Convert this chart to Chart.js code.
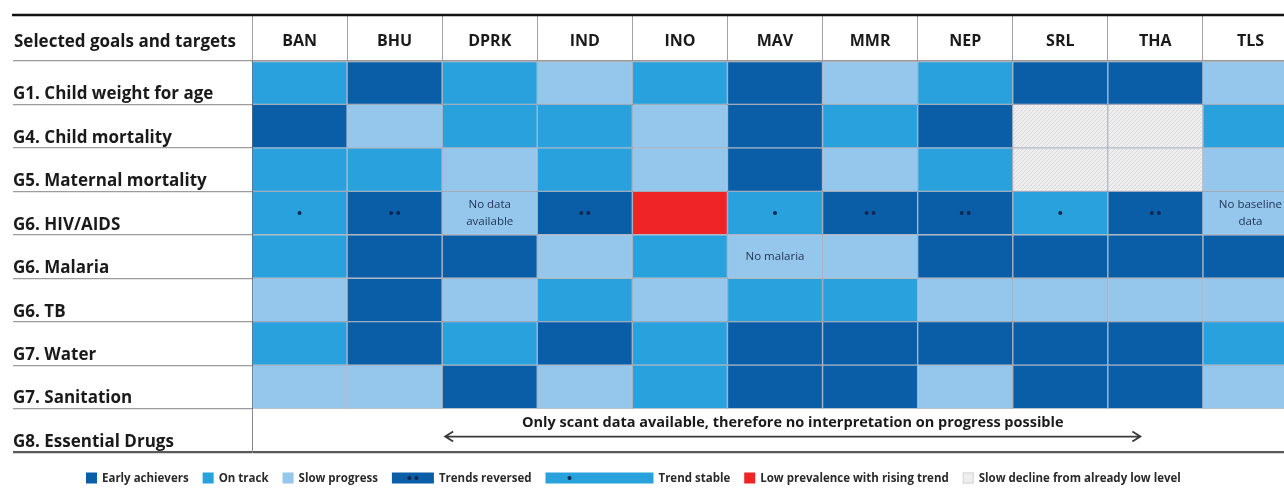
<!DOCTYPE html>
<html>
<head>
<meta charset="utf-8">
<title>MDG progress</title>
<script src="https://cdn.jsdelivr.net/npm/chart.js@4.4.1/dist/chart.umd.min.js"></script>
<style>
  html, body { margin: 0; padding: 0; background: #fff; overflow: hidden; }
  #wrap { width: 1284px; height: 489px; overflow: hidden; }
</style>
</head>
<body>
<div id="wrap"><canvas id="mdg" width="1298" height="489"></canvas></div>
<script>
const countries = ["BAN", "BHU", "DPRK", "IND", "INO", "MAV", "MMR", "NEP", "SRL", "THA", "TLS"];
const goals = ["G1. Child weight for age", "G4. Child mortality", "G5. Maternal mortality", "G6. HIV/AIDS",
  "G6. Malaria", "G6. TB", "G7. Water", "G7. Sanitation", "G8. Essential Drugs"];

// status of each country for each goal
// E early achievers, O on track, S slow progress, R low prevalence rising, G slow decline from low level
// TR trends reversed, TS trend stable, ND no data, NB no baseline, NM no malaria
const weightForAge      = ["O", "E", "O", "S", "O", "E", "S", "O", "E", "E", "S"];
const childMortality    = ["E", "S", "O", "O", "S", "E", "O", "E", "G", "G", "O"];
const maternalMortality = ["O", "O", "S", "O", "S", "E", "S", "O", "G", "G", "S"];
const hivAids           = ["TS", "TR", "ND", "TR", "R", "TS", "TR", "TR", "TS", "TR", "NB"];
const malaria           = ["O", "E", "E", "S", "O", "NM", "S", "E", "E", "E", "E"];
const tb                = ["S", "E", "S", "O", "S", "O", "O", "S", "S", "S", "S"];
const water             = ["O", "E", "O", "E", "O", "E", "E", "E", "E", "E", "O"];
const sanitation        = ["S", "S", "E", "S", "O", "E", "E", "S", "E", "E", "S"];
const essentialDrugs    = [null, null, null, null, null, null, null, null, null, null, null];
const drugsNote = "Only scant data available, therefore no interpretation on progress possible";

const legendCodes  = ["E", "O", "S", "TR", "TS", "R", "G"];
const legendLabels = ["Early achievers", "On track", "Slow progress", "Trends reversed", "Trend stable",
  "Low prevalence with rising trend", "Slow decline from already low level"];

function makeHatch() {
  const c = document.createElement("canvas");
  c.width = 4; c.height = 4;
  const g = c.getContext("2d");
  g.fillStyle = "#eeeeee";
  g.fillRect(0, 0, 4, 4);
  g.strokeStyle = "rgba(120,120,120,0.16)";
  g.lineWidth = 1;
  g.beginPath(); g.moveTo(0, 4); g.lineTo(4, 0); g.stroke();
  return g.createPattern(c, "repeat");
}

const dark = "#0A5EA8", mid = "#28A1DD", light = "#95C6EB";
const fill = { E: dark, O: mid, S: light, R: "#EE2426", G: makeHatch(),
  TR: dark, TS: mid, ND: light, NB: light, NM: light };
const dotCount = { TR: 2, TS: 1 };
const notes = { ND: ["No data", "available"], NB: ["No baseline", "data"], NM: ["No malaria"] };

const rows = [weightForAge, childMortality, maternalMortality, hivAids, malaria, tb, water, sanitation, essentialDrugs];
const FONT = "'Open Sans', Lato, sans-serif";

const datasets = rows.map((codes, r) => ({
  label: goals[r],
  data: codes.map(c => c ? [r, r + 1] : null),
  backgroundColor: codes.map(c => c ? fill[c] : "transparent"),
  borderColor: "rgba(10,40,80,0.28)",
  borderWidth: 1,
  borderSkipped: false,
  grouped: false,
  barPercentage: 1,
  categoryPercentage: 1,
  codes: codes
}));

function drawDots(ctx, cx, cy, n, color) {
  ctx.fillStyle = color;
  for (let k = 0; k < n; k++) {
    const dx = n === 1 ? 0 : (k === 0 ? -3.5 : 3.5);
    ctx.beginPath();
    ctx.arc(cx + dx, cy, 2, 0, Math.PI * 2);
    ctx.fill();
  }
}

const decor = {
  id: "decor",
  afterDatasetsDraw(chart) {
    const ctx = chart.ctx;
    ctx.save();
    // marks and notes inside cells
    chart.data.datasets.forEach((ds, r) => {
      const meta = chart.getDatasetMeta(r);
      ds.codes.forEach((c, i) => {
        const el = meta.data[i];
        if (!c || !el) return;
        const cx = el.x, cy = (el.y + el.base) / 2;
        if (dotCount[c]) drawDots(ctx, cx, cy, dotCount[c], "#13284f");
        if (notes[c]) {
          ctx.fillStyle = "#22365a";
          ctx.font = "11.5px " + FONT;
          ctx.textAlign = "center";
          ctx.textBaseline = "middle";
          const lines = notes[c];
          lines.forEach((t, k) => ctx.fillText(t, cx, cy + (k - (lines.length - 1) / 2) * 17));
        }
      });
    });

    // G8 annotation with double arrow
    const xs = chart.scales.x, ys = chart.scales.y;
    const colW = xs.width / countries.length;
    const rowTop = ys.getPixelForValue(goals.length - 1);
    const x0 = xs.getPixelForValue(2) - colW / 2 + 3;
    const x1 = xs.getPixelForValue(9) - 15;
    ctx.fillStyle = "#1a1a1a";
    ctx.font = "bold 14.5px " + FONT;
    ctx.textAlign = "center";
    ctx.textBaseline = "middle";
    ctx.fillText(drugsNote, (x0 + x1) / 2, rowTop + 14);
    const ay = rowTop + 28;
    ctx.strokeStyle = "#3a3a3a";
    ctx.lineWidth = 1.8;
    ctx.beginPath();
    ctx.moveTo(x0, ay); ctx.lineTo(x1, ay);
    ctx.moveTo(x0 + 8, ay - 5); ctx.lineTo(x0, ay); ctx.lineTo(x0 + 8, ay + 5);
    ctx.moveTo(x1 - 8, ay - 5); ctx.lineTo(x1, ay); ctx.lineTo(x1 - 8, ay + 5);
    ctx.stroke();
    ctx.restore();
  },
  afterDraw(chart) {
    const ctx = chart.ctx;
    const xs = chart.scales.x, ys = chart.scales.y;
    ctx.save();
    // heavy rule above the header
    ctx.strokeStyle = "#111";
    ctx.lineWidth = 2.5;
    ctx.beginPath();
    ctx.moveTo(ys.left - 1, xs.top);
    ctx.lineTo(chart.width, xs.top);
    ctx.stroke();
    // corner header
    ctx.fillStyle = "#1a1a1a";
    ctx.font = "bold 17px " + FONT;
    ctx.textAlign = "left";
    ctx.textBaseline = "middle";
    ctx.fillText("Selected goals and targets", ys.left + 1, (xs.top + xs.bottom) / 2 + 4);

    // legend
    const ly = chart.height - 11;
    let x = 86;
    ctx.font = "bold 11.5px " + FONT;
    legendCodes.forEach((c, i) => {
      const w = c === "TR" ? 42 : c === "TS" ? 108 : 11;
      ctx.fillStyle = c === "G" ? "#eeeeee" : fill[c];
      ctx.fillRect(x, ly - 5.5, w, 11);
      if (c === "G") {
        ctx.strokeStyle = "#d4d4d4"; ctx.lineWidth = 1;
        ctx.strokeRect(x + 0.5, ly - 5, w - 1, 10);
      }
      if (dotCount[c]) drawDots(ctx, x + Math.min(w / 2, 24), ly, dotCount[c], "#13284f");
      ctx.fillStyle = "#2a2a2a";
      ctx.textAlign = "left";
      ctx.fillText(legendLabels[i], x + w + 5, ly + 0.5);
      x += w + 5 + ctx.measureText(legendLabels[i]).width + 14;
    });
    ctx.restore();
  }
};

const last = goals.length;
new Chart(document.getElementById("mdg"), {
  type: "bar",
  data: { labels: countries, datasets: datasets },
  options: {
    responsive: false,
    animation: false,
    layout: { padding: { left: 13, top: 15, right: 0, bottom: 37 } },
    plugins: { legend: { display: false }, tooltip: { enabled: false } },
    scales: {
      x: {
        type: "category",
        position: "top",
        grid: { offset: true, drawOnChartArea: false, tickLength: 46, color: "#a3a3a3", lineWidth: 1 },
        border: { display: true, color: "#9a9a9a", width: 1.5 },
        ticks: { padding: -36, autoSkip: false, maxRotation: 0, color: "#1a1a1a",
          font: { family: FONT, weight: "bold", size: 16 } },
        afterFit: s => { s.height = 46; }
      },
      y: {
        type: "linear",
        reverse: true,
        min: 0,
        max: last,
        grid: {
          tickLength: 239,
          color: c => c.tick && c.tick.value === last ? "#5a5a5a" : "rgba(0,0,0,0)",
          tickColor: c => c.tick && c.tick.value === last ? "#5a5a5a" : "#9c9c9c",
          lineWidth: c => c.tick && c.tick.value === last ? 2.2 : 1.2
        },
        border: { display: true, color: "#8a8a8a", width: 1 },
        ticks: {
          stepSize: 1,
          autoSkip: false,
          crossAlign: "far",
          labelOffset: -10,
          padding: 0,
          color: "#1a1a1a",
          font: { family: FONT, weight: "bold", size: 17 },
          callback: v => goals[v - 1] || ""
        },
        afterFit: s => { s.width = 239; }
      }
    }
  },
  plugins: [decor]
});
</script>
</body>
</html>
